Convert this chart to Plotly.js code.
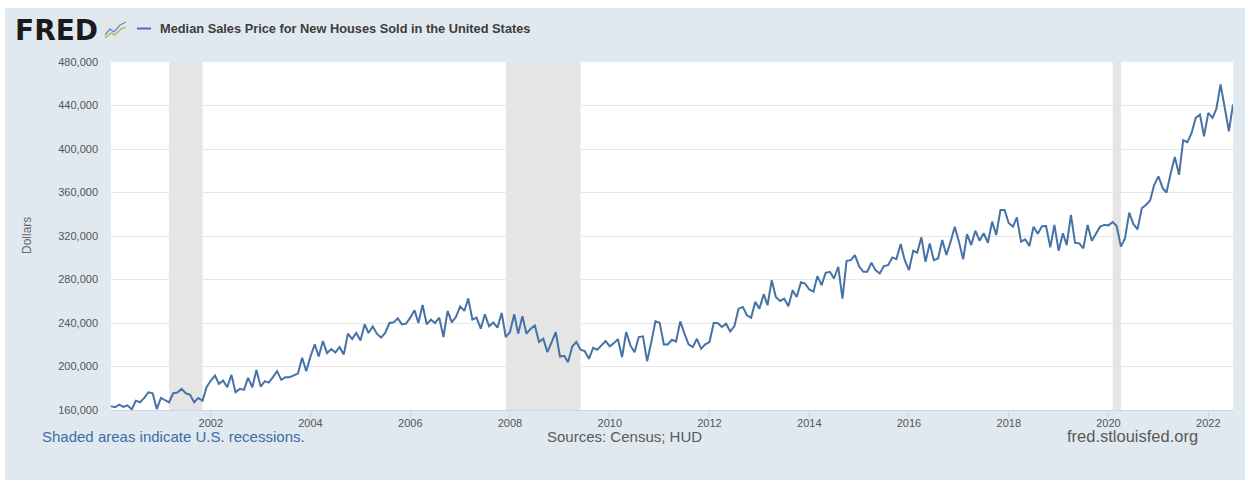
<!DOCTYPE html>
<html>
<head>
<meta charset="utf-8">
<script src="https://cdn.plot.ly/plotly-3.0.1.min.js"></script>
<style>
  html, body { margin: 0; padding: 0; background: #ffffff; width: 1250px; height: 485px; overflow: hidden; }
  #chart { position: absolute; left: 5px; top: 8px; width: 1240px; height: 472px; }
</style>
</head>
<body>
<div id="chart"></div>
<script>
// ---- Data (monthly, starting January 2000) ----
const startYear = 2000;
const startMonth = 1;
// Median sales price of new houses sold in the US, dollars
const prices = [
  163400,162500,164900,162800,164300,160600,168600,167100,171100,176300,175400,160900,
  171100,169200,167100,175400,176000,179400,175400,174200,167100,171100,168600,180900,
  187100,191700,184000,187100,180900,192300,176300,179400,178500,189500,180900,196900,
  181500,186500,185200,190200,195700,187700,190200,190200,191700,193500,208000,195700,
  209200,220300,209200,223400,212300,216000,212900,217800,211100,230200,225200,230800,
  224000,238800,230800,236900,230200,226500,230800,240000,240600,244300,238800,239400,
  244900,251700,240000,256600,238800,243100,240000,244900,227100,251100,240600,245500,
  255400,251100,262500,243100,244900,234800,248000,237000,240500,235700,249200,227100,
  231700,248000,230200,246200,230200,234800,237800,222500,225500,213200,222500,231700,
  209200,209800,204000,218500,222500,215400,214200,207100,217200,215400,219400,223400,
  218500,221500,225200,208600,231700,219400,213200,227100,227700,204900,222500,241500,
  240300,220300,220300,224600,223000,241500,230500,220300,217800,225500,216300,220300,
  222500,240000,240000,236300,239400,232300,236900,253200,254800,247100,244900,259400,
  253200,266500,256300,279400,264000,260300,262500,255400,270200,264000,277500,276300,
  270800,268900,283100,274800,286200,287100,280900,291700,262500,297200,297800,302500,
  292000,287100,287100,295400,288600,285500,292300,293200,300300,298800,312600,297800,
  288600,306500,304600,318800,296300,313200,297800,299400,316300,302500,314800,328600,
  314800,298500,321800,311700,324900,315700,322500,313800,333200,320900,344000,344000,
  331700,328600,337200,314800,316900,310800,328600,322000,329000,329200,309500,330200,
  306500,322500,311700,339400,313800,313200,308600,330200,315700,322500,328600,330200,
  329800,332900,329200,310200,317800,341500,331100,326200,345500,348600,352600,367100,
  374800,364000,360000,377800,392600,376300,408000,406200,414800,428600,431700,411700,
  433200,428600,436900,459400,439400,416300,440900
];
// NBER recessions (shaded)
const recessionStarts = ['2001-03-01', '2007-12-01', '2020-02-01'];
const recessionEnds   = ['2001-11-01', '2009-06-01', '2020-04-01'];
// Axis ticks
const xTickYears = [2002, 2004, 2006, 2008, 2010, 2012, 2014, 2016, 2018, 2020, 2022];
const yTicks = [160000, 200000, 240000, 280000, 320000, 360000, 400000, 440000, 480000];
const seriesName = 'Median Sales Price for New Houses Sold in the United States';
const yAxisLabel = 'Dollars';
const footerLeft = 'Shaded areas indicate U.S. recessions.';
const footerMid = 'Sources: Census; HUD';
const footerRight = 'fred.stlouisfed.org';

// build month dates
const dates = prices.map((_, i) => {
  const m0 = (startMonth - 1) + i;
  const y = startYear + Math.floor(m0 / 12);
  const m = (m0 % 12) + 1;
  return y + '-' + String(m).padStart(2, '0') + '-01';
});

// ---- Layout geometry (div pixels) ----
const W = 1240, H = 472;
const M = { l: 106, r: 12, t: 54, b: 70 };
const PW = W - M.l - M.r, PH = H - M.t - M.b;
const px = x => (x - M.l) / PW;          // div px -> paper x
const py = y => 1 - (y - M.t) / PH;      // div px -> paper y
const OX = 5, OY = 8;                    // div offset on the page
const gx = x => px(x - OX);
const gy = y => py(y - OY);

const FONT = 'Liberation Sans, Arial, sans-serif';
const LINE = '#4572a7';

const shapes = [];
for (let k = 0; k < recessionStarts.length; k++) {
  shapes.push({
    type: 'rect', xref: 'x', yref: 'paper',
    x0: recessionStarts[k], x1: recessionEnds[k], y0: 0, y1: 1,
    fillcolor: '#e5e5e5', line: { width: 0 }, layer: 'below'
  });
}
// legend swatch line
shapes.push({ type: 'line', xref: 'paper', yref: 'paper',
  x0: gx(137), x1: gx(151), y0: gy(28.5), y1: gy(28.5),
  line: { color: LINE, width: 2 } });
// FRED icon (small chart graphic)
shapes.push({ type: 'rect', xref: 'paper', yref: 'paper',
  x0: gx(103), x1: gx(128), y0: gy(40), y1: gy(19),
  fillcolor: '#e4e6e8', line: { width: 0 } });
shapes.push({ type: 'path', xref: 'paper', yref: 'paper',
  path: 'M ' + gx(105) + ' ' + gy(35) + ' L ' + gx(110) + ' ' + gy(29) + ' L ' + gx(114) + ' ' + gy(32) +
        ' L ' + gx(120) + ' ' + gy(25) + ' L ' + gx(126) + ' ' + gy(22),
  line: { color: '#6a8fc4', width: 1.3 } });
shapes.push({ type: 'path', xref: 'paper', yref: 'paper',
  path: 'M ' + gx(105) + ' ' + gy(38) + ' L ' + gx(111) + ' ' + gy(33) + ' L ' + gx(115) + ' ' + gy(35) +
        ' L ' + gx(121) + ' ' + gy(29) + ' L ' + gx(126) + ' ' + gy(27),
  line: { color: '#8cbf5a', width: 1.3 } });

const annotations = [
  { text: '<b>FRED</b>', xref: 'paper', yref: 'paper', x: gx(13), y: gy(30),
    xanchor: 'left', yanchor: 'middle', showarrow: false,
    font: { family: 'DejaVu Sans, sans-serif', size: 28, color: '#1a1a1a' } },
  { text: '<b>' + seriesName + '</b>', xref: 'paper', yref: 'paper', x: gx(158), y: gy(29),
    xanchor: 'left', yanchor: 'middle', showarrow: false,
    font: { family: FONT, size: 12.8, color: '#3c3c3c' } },
  { text: yAxisLabel, xref: 'paper', yref: 'paper', x: gx(27), y: gy(236),
    xanchor: 'center', yanchor: 'middle', showarrow: false, textangle: -90,
    font: { family: FONT, size: 12, color: '#666666' } },
  { text: footerLeft, xref: 'paper', yref: 'paper', x: gx(40), y: gy(436),
    xanchor: 'left', yanchor: 'middle', showarrow: false,
    font: { family: FONT, size: 15, color: '#3e6ba6' } },
  { text: footerMid, xref: 'paper', yref: 'paper', x: gx(624), y: gy(436),
    xanchor: 'center', yanchor: 'middle', showarrow: false,
    font: { family: FONT, size: 15, color: '#595959' } },
  { text: footerRight, xref: 'paper', yref: 'paper', x: gx(1200), y: gy(436),
    xanchor: 'right', yanchor: 'middle', showarrow: false,
    font: { family: FONT, size: 16.5, color: '#595959' } }
];

const trace = {
  type: 'scatter', mode: 'lines', name: seriesName,
  x: dates, y: prices,
  line: { color: LINE, width: 2 },
  hoverinfo: 'x+y'
};

const layout = {
  width: W, height: H,
  margin: M,
  paper_bgcolor: '#e1e9f0',
  plot_bgcolor: '#ffffff',
  showlegend: false,
  font: { family: FONT, size: 11, color: '#555555' },
  xaxis: {
    type: 'date',
    range: [dates[0], dates[dates.length - 1]],
    tickvals: xTickYears.map(y => y + '-01-01'),
    ticktext: xTickYears.map(String),
    showgrid: false, zeroline: false,
    ticks: 'outside', ticklen: 7, tickcolor: '#ccd6eb', tickwidth: 1,
    ticklabelstandoff: -4,
    showline: true, linecolor: '#ccd6eb', linewidth: 1,
    tickfont: { family: FONT, size: 11, color: '#555555' }
  },
  yaxis: {
    range: [160000, 480000],
    tickvals: yTicks, tickformat: ',d',
    showgrid: true, gridcolor: '#e6e6e6', gridwidth: 1,
    zeroline: false, showline: false, ticks: '',
    ticklabelstandoff: 12,
    tickfont: { family: FONT, size: 11, color: '#555555' }
  },
  shapes: shapes,
  annotations: annotations
};

Plotly.newPlot('chart', [trace], layout, { displayModeBar: false, staticPlot: true });
</script>
</body>
</html>
